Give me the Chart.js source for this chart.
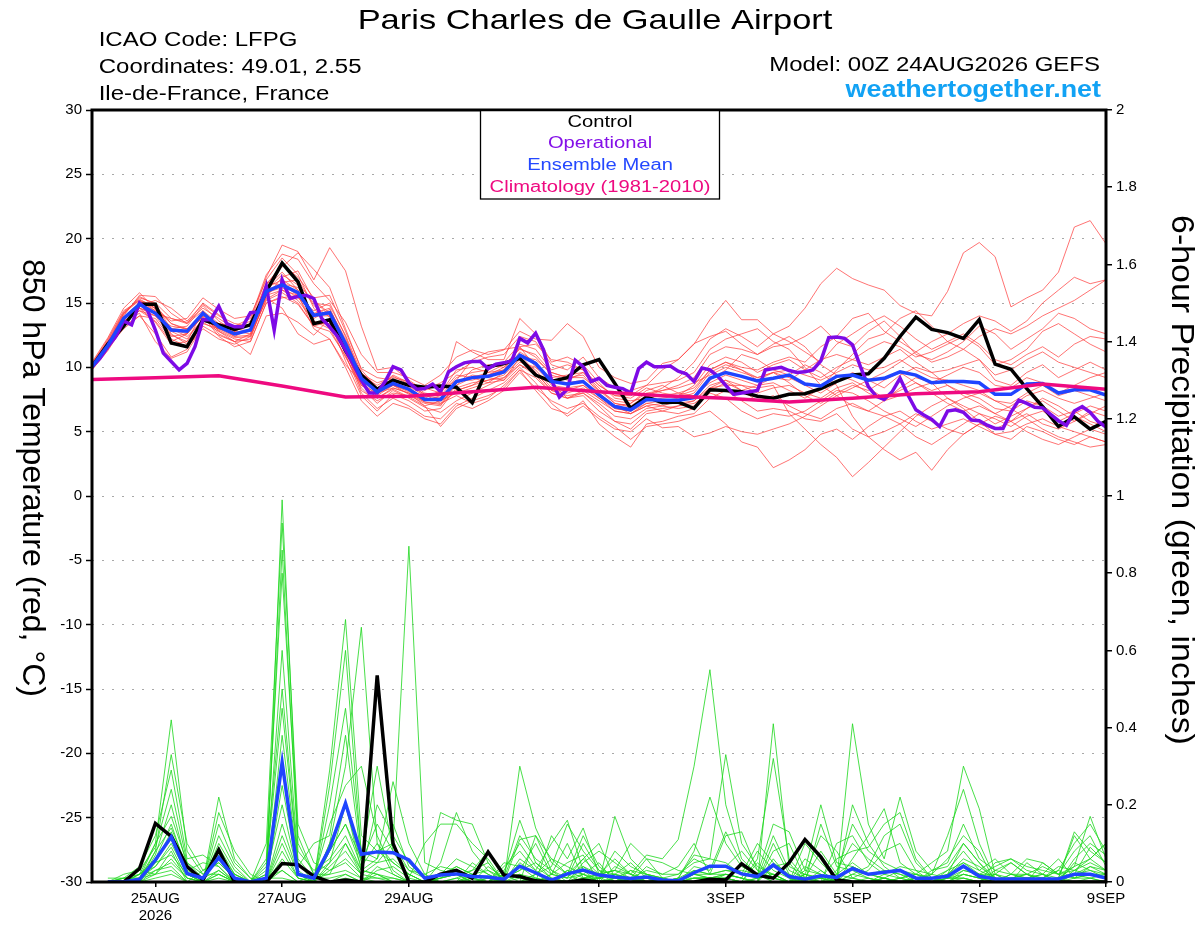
<!DOCTYPE html>
<html>
<head>
<meta charset="utf-8">
<title>Paris Charles de Gaulle Airport - GEFS</title>
<script src="https://cdn.jsdelivr.net/npm/chart.js@4.4.1/dist/chart.umd.min.js"></script>
<style>
  html, body { margin: 0; padding: 0; background: #fff; }
  #wrap { width: 1200px; height: 927px; }
</style>
</head>
<body>
<div id="wrap"><canvas id="chart" width="1200" height="927"></canvas></div>
<script>
// x axis is hours after 00Z 24AUG2026
const tickHours = [24, 72, 120, 192, 240, 288, 336, 384];
const tickNames = [["25AUG", "2026"], "27AUG", "29AUG", "1SEP", "3SEP", "5SEP", "7SEP", "9SEP"];

// climatology, daily
const climHours = [0, 24, 48, 72, 96, 120, 144, 168, 192, 216, 240, 264, 288, 312, 336, 360, 384];
const climTemp = [9.05, 9.2, 9.35, 8.55, 7.7, 7.75, 8.1, 8.45, 8.1, 7.8, 7.6, 7.3, 7.6, 7.95, 8.1, 8.7, 8.3];

// control run 850 hPa temp, 6-hourly from 0h
const ctrlTemp = [10.05,11.8,13.2,14.9,14.9,11.9,11.6,13.7,13.3,12.95,13.3,15.9,18.1,16.65,13.4,13.7,11.3,9.4,8.3,9.0,8.6,8.45,8.55,
  8.45,7.25,10.05,10.3,10.7,9.4,8.9,9.2,10.2,10.6,8.75,6.8,7.7,7.25,7.3,6.8,8.25,8.2,8.1,7.75,7.6,
  7.9,7.95,8.35,8.9,9.4,9.5,10.7,12.4,13.9,12.95,12.7,12.25,13.7,10.25,9.85,8.35,6.95,5.4,6.15,5.2,5.8];

// ensemble mean temp, 6-hourly
const meanTemp = [10.05,11.7,13.8,14.9,14.2,12.9,12.8,14.2,13.15,12.6,12.9,15.9,16.4,15.8,14.05,14.25,11.85,9.15,8.1,8.75,8.3,7.5,7.5,
  8.9,9.2,9.3,9.65,10.95,10.3,8.9,8.7,8.9,7.85,6.95,6.7,7.5,7.45,7.45,7.65,9.15,9.6,9.3,8.95,9.15,
  9.4,8.7,8.55,9.3,9.4,9.0,9.15,9.65,9.4,8.8,8.9,8.9,8.8,7.9,7.9,8.7,8.75,8.0,8.25,8.25,7.85];

// operational run temp, 3-hourly
const operTemp = [10.05,10.7,11.6,12.4,13.6,13.3,15.0,14.45,12.9,11.1,
  10.45,9.8,10.3,11.6,13.7,13.7,14.75,13.4,13.15,13.15,
  14.25,14.3,16.3,12.9,16.8,15.35,15.5,15.6,15.35,13.8,
  13.15,12.4,11.35,10.2,9.0,8.0,8.0,8.9,10.05,9.8,
  8.8,8.3,8.35,8.7,8.1,9.65,10.05,10.35,10.45,10.45,
  9.9,10.25,10.35,10.5,12.25,11.9,12.65,11.35,9.0,7.7,
  8.3,10.55,10.05,8.9,9.15,8.6,8.45,8.35,8.0,9.9,
  10.4,10.05,10.05,10.1,9.7,9.5,8.9,9.95,9.8,9.3,
  8.6,7.9,8.0,8.1,8.2,9.8,9.9,10.0,9.75,9.6,
  9.65,9.8,10.5,12.3,12.35,12.25,11.75,10.05,8.5,7.75,
  7.5,8.1,9.15,7.85,6.7,6.3,5.95,5.4,6.6,6.7,
  6.5,5.9,5.85,5.5,5.25,5.25,6.5,7.45,7.2,6.9,
  6.85,6.35,5.85,5.5,6.6,6.95,6.5,5.8,5.35];

// ensemble members temp, 6-hourly
const t01 = [10.2,12.0,14.2,15.4,15.0,13.8,13.5,14.6,13.8,13.0,13.2,16.5,17.8,18.9,17.6,16.2,13.0,9.8,8.4,9.0,8.6,7.9,7.2,
  8.6,9.8,10.2,10.0,11.5,10.8,9.4,9.0,9.6,8.4,7.2,6.9,7.8,8.4,9.2,10.4,12.2,13.0,12.4,11.6,12.6,
  12.0,11.2,10.4,11.8,12.6,13.4,14.0,13.2,12.2,11.4,12.0,12.6,11.8,10.6,10.2,11.0,11.6,10.8,11.8,12.4,12.2];
const t02 = [9.9,11.5,13.4,14.6,13.5,11.8,12.0,13.5,12.8,12.2,12.0,15.0,15.5,14.9,13.2,12.8,10.9,8.4,7.2,8.2,7.6,6.9,6.5,
  7.4,8.0,8.6,9.2,10.2,9.6,8.2,7.8,8.0,7.0,5.8,5.2,6.4,6.6,7.0,7.4,8.6,9.0,8.2,7.4,7.8,
  7.0,6.4,6.0,6.8,7.2,6.6,6.2,6.6,5.8,5.2,5.6,6.0,5.4,4.8,5.0,5.6,6.0,5.4,5.0,4.6,4.2];
const t03 = [10.1,11.9,14.0,15.6,15.5,14.2,13.4,15.0,14.1,13.0,13.6,17.0,19.5,19.0,16.8,19.3,17.5,13.2,9.8,10.0,9.0,8.2,8.8,
  9.6,10.4,10.8,11.0,12.4,12.0,10.2,9.8,10.8,9.2,8.4,8.2,8.6,9.8,10.6,11.8,13.7,15.2,13.7,13.7,12.6,
  13.2,14.6,16.5,17.7,16.9,16.4,16.0,14.8,14.2,14.0,15.9,18.9,19.7,18.6,14.7,15.4,16.0,17.4,20.9,21.4,19.6];
const t04 = [10.0,11.6,13.6,14.2,12.0,10.7,11.2,13.2,12.5,12.0,11.0,14.0,14.2,13.5,12.5,13.8,11.0,8.0,6.8,7.6,7.0,6.2,6.0,
  7.2,6.8,7.4,8.2,9.6,8.4,7.4,6.8,7.2,6.2,5.4,4.4,5.4,5.6,5.8,6.2,6.6,5.6,4.2,3.8,2.2,
  2.8,3.6,4.8,5.2,4.4,5.4,6.2,5.6,4.6,4.0,4.8,5.6,6.4,6.0,5.4,6.2,6.6,5.8,6.4,7.0,6.6];
const t05 = [10.3,12.2,14.4,15.2,14.8,13.0,12.6,14.0,13.4,12.8,13.4,16.2,16.8,16.0,13.8,14.5,12.2,9.5,8.8,9.2,8.9,8.0,7.8,
  9.2,9.6,9.8,10.4,11.8,11.4,9.8,10.2,9.8,8.6,7.8,7.6,8.4,8.0,7.8,8.6,10.2,10.8,10.4,9.6,10.2,
  10.6,9.8,9.2,10.0,10.6,10.2,10.8,11.4,10.4,9.6,9.8,10.2,10.6,9.0,8.6,9.6,10.2,9.2,9.8,10.4,9.8];
const t06 = [9.8,11.3,13.2,14.0,13.8,12.2,11.6,13.0,12.2,11.8,12.4,15.5,17.0,17.5,15.2,14.0,11.5,8.8,7.6,8.4,8.0,7.0,5.4,
  6.8,7.4,7.8,8.4,9.8,8.2,6.8,6.4,7.4,5.6,4.6,3.8,5.6,5.8,6.2,6.4,7.6,8.2,7.4,6.6,6.8,
  6.6,6.0,5.8,6.4,5.2,4.6,5.0,5.6,6.4,5.8,5.2,4.8,5.6,6.2,5.8,5.0,4.4,4.0,4.6,5.2,4.8];
const t07 = [10.4,12.3,14.6,15.8,14.5,13.6,13.8,15.4,14.5,13.8,14.0,16.8,18.5,17.2,14.6,13.2,11.2,8.6,8.0,8.6,8.2,7.4,7.8,
  12.0,11.2,10.6,10.6,13.8,12.6,10.4,10.8,10.2,8.8,7.6,7.4,7.6,7.8,8.0,8.4,9.8,10.4,10.0,9.8,10.4,
  10.8,10.4,11.6,12.4,13.8,14.2,12.8,12.0,11.2,10.4,10.8,11.4,10.6,9.4,9.8,10.6,11.2,10.4,10.0,9.6,9.2];
const t08 = [10.0,11.8,13.9,15.0,14.4,12.5,12.0,14.4,12.8,12.0,12.6,15.2,15.8,15.0,13.2,13.6,10.5,7.8,6.6,7.9,7.4,6.6,6.8,
  8.4,8.8,9.0,9.2,10.4,10.0,9.2,9.4,9.6,8.2,7.2,7.0,7.8,8.2,8.4,8.8,9.4,10.0,9.6,9.2,9.6,
  9.2,8.6,8.0,8.8,9.6,9.0,8.4,9.4,10.0,9.6,8.6,7.8,7.2,6.4,7.0,7.8,8.2,7.6,7.2,7.6,8.0];
const t09 = [10.2,11.7,13.5,14.4,14.0,13.2,13.0,13.8,13.0,12.4,12.5,16.0,16.5,16.2,15.0,14.8,12.5,9.6,8.4,9.4,8.8,8.4,8.0,
  9.4,9.2,8.8,9.6,11.2,10.4,8.6,8.4,8.6,7.8,7.0,7.2,8.2,8.6,8.0,7.8,9.0,9.8,11.0,10.6,9.8,
  9.4,10.2,9.6,8.6,6.2,4.6,3.6,2.8,3.4,2.0,3.6,4.8,5.6,5.2,5.8,6.8,7.4,6.6,5.8,6.4,7.0];
const t10 = [9.9,11.4,13.2,14.8,15.2,14.6,13.6,14.9,14.0,13.4,13.2,15.4,14.6,12.6,11.8,12.2,10.2,8.8,7.9,8.8,8.4,7.6,8.2,
  9.0,10.6,11.2,11.4,11.6,10.0,8.8,7.6,8.2,7.4,6.6,6.4,7.0,6.6,6.4,6.8,8.2,8.8,8.2,8.6,8.8,
  8.2,7.6,8.4,9.8,11.0,12.2,12.6,13.8,14.4,13.2,12.0,11.4,12.4,13.0,12.6,13.2,14.0,14.6,15.2,16.0,16.8];
const t11 = [10.1,11.8,14.1,15.5,14.9,12.6,11.8,13.6,13.2,12.7,12.8,16.4,18.0,17.0,15.4,15.6,12.8,9.9,9.2,9.0,8.3,7.6,7.4,
  8.2,8.6,9.4,10.0,11.0,9.6,8.2,8.0,8.4,7.6,6.8,6.6,7.2,7.4,7.6,8.0,9.6,10.2,9.8,9.0,9.6,
  8.8,7.8,7.2,8.0,8.6,8.2,9.0,9.6,8.8,8.2,8.6,8.0,7.6,6.8,6.6,7.4,7.0,6.2,6.6,5.8,5.4];
const t12 = [10.0,11.5,13.0,14.0,12.6,10.8,11.4,13.4,13.0,12.6,13.0,16.0,17.2,16.4,15.2,14.2,11.4,8.2,7.4,8.0,7.8,7.2,7.0,
  8.8,9.4,9.2,9.0,10.8,10.6,9.6,9.2,9.4,8.0,7.0,6.4,7.0,7.2,7.2,7.4,8.4,8.6,8.6,8.4,8.6,
  6.4,5.2,4.0,3.0,1.5,2.6,3.8,5.0,6.2,7.0,7.6,7.0,6.4,5.6,6.2,6.8,7.6,7.0,6.2,5.6,5.0];
const t13 = [10.2,12.1,14.3,15.3,14.6,13.4,13.0,14.2,12.6,12.0,12.2,15.6,16.0,15.2,13.6,13.0,10.8,8.6,7.8,8.6,7.9,7.3,7.2,
  7.8,7.2,7.6,8.6,9.8,9.2,8.0,7.6,7.8,6.6,5.8,5.6,6.6,6.8,7.0,7.2,8.0,7.6,6.6,6.0,6.4,
  6.2,6.6,7.4,8.2,8.0,7.4,6.6,6.0,5.4,6.2,7.0,7.6,8.0,7.4,6.8,6.0,5.2,4.6,4.2,3.8,4.0];
const t14 = [10.3,12.0,13.8,14.6,14.2,13.0,12.4,13.6,13.4,13.2,13.8,17.2,18.8,18.4,16.5,15.2,13.5,11.0,9.6,9.6,9.2,8.6,9.4,
  10.8,11.35,11.0,11.35,12.8,12.2,12.1,13.4,12.4,10.0,9.2,8.75,9.0,10.3,10.6,11.85,12.4,12.8,11.8,11.0,11.6,
  11.8,12.4,13.2,12.0,11.6,12.8,13.6,12.4,11.0,10.6,11.2,12.0,13.2,12.6,11.4,12.2,13.0,14.2,13.8,13.0,12.6];
const t15 = [9.8,11.4,13.4,14.6,14.0,12.4,12.6,14.0,12.4,11.6,12.0,15.0,15.4,15.6,13.0,12.2,10.0,7.4,6.2,7.2,6.8,6.0,5.6,
  7.0,7.6,8.2,8.8,10.0,8.8,7.2,6.2,7.0,6.0,5.2,5.0,6.0,5.3,5.4,4.6,4.9,5.4,5.0,4.8,5.2,
  5.6,6.2,7.0,7.8,8.4,9.0,9.6,10.4,11.2,12.0,12.6,13.4,14.0,13.6,12.8,13.6,15.0,16.0,17.0,16.5,16.8];
const t16 = [10.1,11.9,14.2,15.2,14.4,13.0,13.2,14.8,13.6,12.8,12.6,15.8,16.2,15.4,14.4,15.0,12.4,9.2,8.2,8.9,8.5,7.8,7.6,
  9.0,9.0,9.4,9.8,11.0,10.4,9.0,8.8,9.0,7.8,6.8,6.6,7.4,7.6,7.8,8.2,9.8,10.4,9.8,9.2,9.6,
  9.8,9.4,9.0,9.6,10.2,9.8,10.0,10.6,9.8,9.2,9.0,8.6,8.2,7.4,7.2,8.0,8.6,7.8,8.2,7.8,7.4];
const t17 = [10.0,11.6,13.5,14.8,14.2,13.8,13.4,14.4,13.4,13.0,12.8,15.6,16.6,16.8,14.8,13.9,11.6,9.0,8.0,8.4,8.0,7.4,7.6,
  8.6,9.2,9.6,10.2,11.4,11.0,9.6,9.2,9.2,8.2,7.4,7.2,8.0,8.2,8.6,9.2,11.0,11.6,11.4,11.0,11.8,
  12.4,11.6,10.2,9.4,9.0,8.4,7.6,8.2,8.8,8.0,7.2,6.6,7.0,6.4,5.8,6.4,5.6,5.2,5.8,6.6,6.2];
const t18 = [10.2,11.8,13.9,15.0,14.6,12.8,12.2,13.8,12.9,12.3,12.4,15.3,16.0,15.6,13.4,13.4,11.2,8.7,7.6,8.3,7.7,7.0,7.4,
  8.0,8.4,8.8,9.0,10.2,9.4,8.0,7.6,8.0,7.2,6.2,6.0,6.8,7.0,6.8,7.0,8.4,9.0,8.6,8.0,8.4,
  8.6,8.0,7.6,8.4,8.8,8.0,7.4,7.8,8.4,8.8,9.4,10.0,9.6,8.6,8.4,9.2,8.8,8.0,8.6,9.2,9.6];
const t19 = [10.0,11.7,13.6,14.4,13.6,12.0,12.6,14.2,13.2,12.4,13.0,16.2,17.4,16.0,14.2,14.6,12.0,9.4,8.6,9.3,8.7,7.9,8.0,
  9.8,10.0,9.6,9.8,11.6,11.8,10.6,10.4,9.8,8.6,7.8,7.8,8.6,8.8,9.0,9.6,11.4,12.2,12.6,13.0,12.0,
  11.4,10.0,8.6,7.8,7.0,6.6,7.4,8.4,9.2,8.8,7.6,6.8,5.8,4.8,4.4,5.4,5.0,4.4,4.0,4.6,4.2];
const t20 = [10.1,11.6,13.7,15.1,14.8,13.4,12.9,13.9,13.0,12.8,13.4,16.6,16.4,15.6,14.0,14.0,11.8,9.2,8.2,8.6,8.1,7.3,7.1,
  8.2,8.6,9.0,9.4,10.6,9.8,8.4,8.2,8.6,7.6,6.6,6.4,7.2,7.0,7.4,7.8,8.8,9.4,9.0,8.6,9.2,
  9.0,9.8,10.6,11.0,10.6,11.4,12.0,11.6,10.8,11.2,11.8,12.4,11.6,10.2,10.6,11.4,12.8,13.4,12.6,11.8,11.2];

// 6-hour precipitation (inches), valid at 6h .. 384h
const ctrlPrecip = [0,0,.035,.152,.118,.04,.005,.083,0,0, 0,.048,.045,.015,0,.005,0,.535,.1,0,
  0,.02,.03,.01,.078,.018,.014,.003,0,0, .005,0,0,0,0,0,0,0,.007,.005,
  .047,.018,.01,.05,.11,.065,.005,0,0,0, 0,0,0,0,0,0,0,0,0,0, 0,0,0,0];
const meanPrecip = [0,0,.007,.057,.117,.022,.01,.063,.01,0, .01,.31,.02,.01,.087,.204,.072,.078,.076,.057,
  .01,.018,.021,.014,.013,.007,.041,.024,.005,.021, .031,.018,.013,.009,.013,.005,.003,.024,.041,.041,
  .021,.014,.044,.014,.007,.016,.012,.035,.02,.025, .03,.01,.01,.015,.041,.015,.008,.008,.008,.008,
  .008,.02,.02,.01];

const g01 = [0,.01,.02,.1,.42,.08,.02,.05,.01,0, 0,.99,.1,.02,.05,.2,.03,.02,0,0, 0,.01,.02,0,0,.02,.16,.05,.01,0, .04,.02,.06,.02,.01,0,0,.02,.02,.12, .13,.03,.01,0,.02,.01,0,.06,.12,.19, .05,.02,0,.02,.1,.05,.01,0,.01,.02, .01,.13,.08,.05];
const g02 = [0,0,.01,.05,.12,.02,0,.1,.03,0, .02,.2,.02,0,.29,.68,.12,.08,.05,.02, 0,0,.01,.03,.05,0,0,.02,.04,.15, .08,.03,0,.01,0,0,.01,.08,.22,.1, .04,.02,.15,.13,.03,.2,.05,.04,.02,.01, 0,.01,0,.01,.03,.02,.04,.06,.04,.03, .02,.03,.06,.1];
const g03 = [0,.02,.03,.02,.08,0,0,.02,0,0, .05,.5,.05,.01,.02,.1,.02,.05,.1,.87, .05,.03,.02,0,0,.01,.03,.1,.02,.01, .02,0,.17,.06,.02,.01,0,.01,.01,.01, 0,.06,.32,.06,.01,0,.02,.15,.08,.05, .03,0,.01,.03,.05,.03,.06,.02,.02,.01, .03,.1,.15,.08];
const g04 = [0,0,0,.08,.33,.1,.03,.06,.02,0, 0,.08,.01,0,.1,.3,.66,.1,.02,0, 0,.02,.04,.02,.01,0,.3,.14,.05,.02, .06,.1,.01,0,.04,.02,.02,.05,.06,.33, .1,.04,.02,0,.06,.03,0,.2,.1,.04, .01,.02,.05,.08,.3,.19,.02,0,0,.01, 0,.02,.03,.02];
const g05 = [0,0,.01,.03,.05,.01,0,.22,.06,.01, 0,.03,0,0,.08,.15,.06,.3,.08,.03, .01,0,0,.05,.02,0,0,0,.12,.06, .14,.02,.03,.1,.06,.01,0,0,0,.02, .01,0,.41,.04,.02,.12,.08,.01,0,.02, .04,.03,0,.01,.02,.01,0,.02,.06,.05, .02,.04,.17,.06];
const g06 = [.01,.01,.04,.12,.29,.06,.07,.04,0,0, .1,.93,.15,.05,.03,.05,.01,.01,0,0, 0,.05,.18,.08,.03,.01,.02,.01,0,.03, .01,.01,.02,.01,0,0,.01,.03,.02,.03, .02,.1,.05,.02,0,.01,0,.41,.15,.06, .22,.08,.03,.05,.15,.06,.03,.05,.02,0, .01,.12,.06,.1];
const g07 = [0,0,.02,.06,.15,.03,.01,.08,.02,0, 0,.25,.03,0,.2,.45,.08,.06,.26,.1, .02,0,0,.01,0,.03,.1,.04,.01,0, .05,.08,.05,.02,.07,.06,.11,.3,.55,.2, .06,.02,.01,0,.1,.05,.01,0,.01,0, 0,.01,.02,.12,.24,.1,.01,0,.01,.02, .06,.01,.02,.01];
const g08 = [0,0,0,.01,.02,0,0,.03,0,0, .01,.01,0,0,0,.02,0,.03,.04,.01, .1,.15,.15,.1,.06,0,0,.12,.06,.04, .02,.01,0,0,.01,0,0,.01,.01,0, 0,.01,.12,.03,.01,0,.1,.12,.05,.02, .01,0,0,0,.01,0,.05,.06,.03,.02, 0,.06,.1,.07];
const g09 = [0,.01,.01,.04,.1,.02,0,.18,.08,.02, 0,.12,.02,.01,.15,.25,.3,.12,.03,0, 0,.01,.02,0,.01,0,.05,.02,0,.02, .12,.04,.01,.03,.02,.01,.02,.06,.04,.04, .08,.03,.02,0,.02,.01,0,.02,.04,.12, .15,.05,.01,.02,.06,.04,.01,0,0,0, .01,.02,.04,.03];
const g10 = [0,0,.03,.09,.24,.05,.02,.02,0,0, .03,.86,.08,.03,.06,.12,.03,.02,.01,0, 0,0,0,.02,0,.04,.08,.03,.1,.16, .03,0,.04,.02,0,0,0,0,0,.01, 0,0,.08,.1,.01,.08,.02,.05,.02,.01, 0,0,.02,.06,.12,.08,0,.01,.02,.04, .02,.08,.12,.04];
const g11 = [0,0,0,.07,.2,.04,.01,.06,.01,0, 0,.38,.04,.1,.12,.38,.06,.05,.06,.02, 0,.02,.06,.04,.02,0,.01,0,.02,.1, .01,.02,.03,.01,.06,.05,.03,.02,.01,.02, .01,.08,.03,.01,0,0,.03,.1,.06,.03, .02,.01,0,.01,.04,.02,.02,.01,0,.01, 0,.01,.01,.02];
const g12 = [0,0,.01,.02,.06,.01,0,.12,.04,0, 0,0,0,0,.04,.08,.02,.2,.12,.05, .01,0,0,0,.04,.01,.12,.06,.03,.01, .1,.03,.02,.05,.01,0,0,.04,.03,.13, .05,.02,0,0,.03,.02,0,0,0,.01, .03,.02,.01,0,.02,.01,0,.02,.01,.01, .04,.03,.05,.03];
const g13 = [0,0,.02,.05,.13,.03,.05,.04,0,0, .06,.8,.12,.02,.02,.03,.01,0,0,0, 0,0,.01,0,0,.02,0,.01,0,.02, 0,.01,.08,.04,.02,.01,0,0,0,0, 0,0,.1,.02,0,.15,.04,.03,.01,0, 0,0,0,.03,.08,.03,.01,0,.05,.02, 0,.05,.03,.01];
const g14 = [0,0,0,.03,.04,0,0,.15,.05,.01, 0,.1,.01,0,.25,.6,.07,.08,.1,.03, .02,.04,.03,.01,0,0,.02,0,.01,0, .02,.05,0,.01,0,0,.01,.07,.06,.05, .02,.01,.02,0,.02,0,0,.01,.03,.08, .1,.03,.02,.01,.01,0,.02,.05,.02,0, .01,.02,.09,.05];
const g15 = [0,.01,.01,.1,.17,.05,.01,.03,0,0, .02,.6,.06,.01,.01,.02,0,.04,.02,0, 0,.01,.02,.03,.08,.01,.03,.05,.02,.05, .07,0,.01,0,.01,0,0,.01,.01,.01, 0,.05,.01,0,.01,.01,.06,.08,.09,.15, .18,.06,.01,0,.03,.02,.01,0,0,.05, .02,.01,.02,.02];
const g16 = [0,0,0,.06,.11,.02,0,.07,.01,0, 0,.15,.02,0,.1,.2,.05,.15,.08,.01, 0,0,0,0,.01,0,.11,.12,.03,0, .01,.02,.03,.02,0,.01,0,.03,.02,.02, .01,0,.06,.01,0,.03,0,.02,.01,0, .01,0,.03,.04,.1,.05,0,.01,.01,0, .01,.04,.06,.03];
const g17 = [0,0,.02,.04,.09,.01,0,.01,0,0, .04,.45,.05,0,.03,.06,.02,.01,.01,0, 0,.18,.16,.15,.05,0,0,.02,.06,.02, .04,.01,.02,.01,.03,.02,.04,.1,.02,.03, .03,.02,0,0,0,0,.01,0,0,.01, 0,.01,0,0,0,0,.03,.02,.01,0, 0,.02,.01,0];
const g18 = [0,0,0,.02,.03,0,.03,.05,.01,0, 0,0,0,0,.05,.1,.03,.06,.15,.04, .01,0,0,.01,0,.05,.04,.01,0,.03, .02,0,.01,0,.01,0,0,0,0,0, 0,.01,.02,0,.04,.02,0,.04,.02,.03, .02,0,0,.02,.05,.02,.01,0,0,.01, .03,.01,.04,.02];
const g19 = [0,0,.01,.08,.14,.04,.01,.09,.02,0, 0,.06,.01,0,.08,.15,.04,.1,.05,.02, 0,.01,.04,.02,.03,0,0,0,.02,.01, .06,.02,0,.03,0,.01,0,.02,.01,.02, .01,0,.04,.05,0,0,.02,.01,0,0, .01,.02,.01,0,.02,.01,0,.01,.02,.01, 0,.03,.02,.01];
const g20 = [0,0,0,.05,.07,.02,0,.02,0,0, .01,.03,0,.02,0,.01,0,.02,0,0, 0,0,0,0,0,0,.06,.03,0,0, .01,.01,.02,0,.02,0,.01,.01,.01,.01, 0,0,0,0,.01,0,0,0,0,.01, 0,0,0,.01,.01,0,.02,0,0,0, .01,0,.01,0];

const tempMembers = [t01, t02, t03, t04, t05, t06, t07, t08, t09, t10, t11, t12, t13, t14, t15, t16, t17, t18, t19, t20];
const precipMembers = [g01, g02, g03, g04, g05, g06, g07, g08, g09, g10, g11, g12, g13, g14, g15, g16, g17, g18, g19, g20];

const FONT = '"Liberation Sans", Arial, Helvetica, sans-serif';
Chart.defaults.font.family = FONT;
Chart.defaults.color = "#000";

// time axes (hours)
const hours6 = Array.from({ length: 65 }, (_, i) => i * 6);
const hours3 = Array.from({ length: 129 }, (_, i) => i * 3);
const precipHours = hours6.slice(1);

function pts(hrs, vals) {
    return vals.map((v, i) => ({ x: hrs[i], y: v }));
}

function line(data, color, width, axis, order) {
    return {
        data: data,
        borderColor: color,
        borderWidth: width,
        yAxisID: axis,
        order: order,
        pointRadius: 0,
        fill: false,
        tension: 0
    };
}

const datasets = [];
tempMembers.forEach(vals => datasets.push(line(pts(hours6, vals), "rgba(255,60,60,0.8)", 0.9, "y", 20)));
precipMembers.forEach(vals => datasets.push(line(pts(precipHours, vals), "rgba(30,215,30,0.9)", 0.9, "y2", 15)));
datasets.push(line(pts(precipHours, ctrlPrecip), "#000000", 3.5, "y2", 6));
datasets.push(line(pts(precipHours, meanPrecip), "#1f44ff", 3.5, "y2", 5));
datasets.push(line(pts(hours6, ctrlTemp), "#000000", 3.5, "y", 4));
datasets.push(line(pts(hours3, operTemp), "#7d0ae6", 3.5, "y", 3));
datasets.push(line(pts(hours6, meanTemp), "#1f44ff", 3.5, "y", 2));
datasets.push(line(pts(climHours, climTemp), "#ee0a80", 3.5, "y", 1));

// text with a horizontal stretch, the original font is wider than Arial
function drawText(ctx, text, x, y, size, opts) {
    opts = opts || {};
    ctx.save();
    ctx.font = (opts.bold ? "bold " : "") + size + "px " + FONT;
    ctx.fillStyle = opts.color || "#000";
    ctx.textAlign = opts.align || "left";
    ctx.textBaseline = "alphabetic";
    ctx.translate(x, y);
    if (opts.rotate) ctx.rotate(opts.rotate);
    ctx.scale(opts.sx || 1, 1);
    ctx.fillText(text, 0, 0);
    ctx.restore();
}

const legendItems = [
    ["Control", "#000000"],
    ["Operational", "#8410e8"],
    ["Ensemble Mean", "#2448ff"],
    ["Climatology (1981-2010)", "#ee0a80"]
];

const decor = {
    id: "decor",
    afterDraw(chart) {
        const ctx = chart.ctx;
        const a = chart.chartArea;
        ctx.save();
        ctx.strokeStyle = "#000";
        ctx.lineWidth = 3;
        ctx.strokeRect(a.left, a.top, a.right - a.left, a.bottom - a.top);

        // legend box
        ctx.fillStyle = "#fff";
        ctx.fillRect(480, a.top + 1.5, 240, 88);
        ctx.lineWidth = 1.3;
        ctx.strokeRect(480.5, a.top, 239, 89);
        ctx.restore();
        const lx = 600;
        const ly = [126.5, 148.3, 170, 191.7];
        legendItems.forEach((it, i) => drawText(ctx, it[0], lx, ly[i], 16, { align: "center", color: it[1], sx: 1.26 }));

        // header
        drawText(ctx, "Paris Charles de Gaulle Airport", 595, 28.5, 28, { align: "center", sx: 1.23 });
        drawText(ctx, "ICAO Code: LFPG", 98.7, 46, 20, { sx: 1.2 });
        drawText(ctx, "Coordinates: 49.01, 2.55", 98.7, 73, 20, { sx: 1.2 });
        drawText(ctx, "Ile-de-France, France", 98.7, 100, 20, { sx: 1.2 });
        drawText(ctx, "Model: 00Z 24AUG2026 GEFS", 1100, 70.7, 20, { align: "right", sx: 1.2 });
        drawText(ctx, "weathertogether.net", 1101, 97.3, 24, { align: "right", bold: true, color: "#12a2f4", sx: 1.12 });

        // axis titles, read top to bottom
        drawText(ctx, "850 hPa Temperature (red, \u00B0C)", 23, 478, 32, { align: "center", rotate: Math.PI / 2 });
        drawText(ctx, "6-hour Precipitation (green, inches)", 1172, 480, 32, { align: "center", rotate: Math.PI / 2, sx: 1.06 });
    }
};

new Chart(document.getElementById("chart"), {
    type: "line",
    data: { datasets: datasets },
    options: {
        responsive: false,
        animation: false,
        events: [],
        layout: { padding: { top: 110, left: 0, right: 0, bottom: 0 } },
        plugins: { legend: { display: false }, tooltip: { enabled: false } },
        scales: {
            x: {
                type: "linear",
                min: 0,
                max: 384,
                afterBuildTicks: axis => { axis.ticks = tickHours.map(v => ({ value: v })); },
                afterFit: axis => { axis.height = 45; },
                ticks: {
                    autoSkip: false,
                    maxRotation: 0,
                    padding: 3,
                    font: { size: 15, lineHeight: 1.13 },
                    callback: v => tickNames[tickHours.indexOf(v)]
                },
                grid: { drawOnChartArea: false, tickLength: 5, tickColor: "#000", lineWidth: 1.5 },
                border: { display: false }
            },
            y: {
                position: "left",
                min: -30,
                max: 30,
                afterFit: axis => { axis.width = 92; },
                ticks: { stepSize: 5, padding: 4, font: { size: 15 } },
                grid: { color: "#a8a8a8", lineWidth: 1, tickColor: "#000", tickLength: 6, tickWidth: 1.5 },
                border: { display: false, dash: [2, 8] }
            },
            y2: {
                position: "right",
                min: 0,
                max: 2,
                afterFit: axis => { axis.width = 94; },
                ticks: { stepSize: 0.2, padding: 4, font: { size: 15 }, callback: v => String(Number(v.toFixed(1))) },
                grid: { drawOnChartArea: false, tickColor: "#000", tickLength: 6, lineWidth: 1.5 },
                border: { display: false }
            }
        }
    },
    plugins: [decor]
});
</script>
</body>
</html>
